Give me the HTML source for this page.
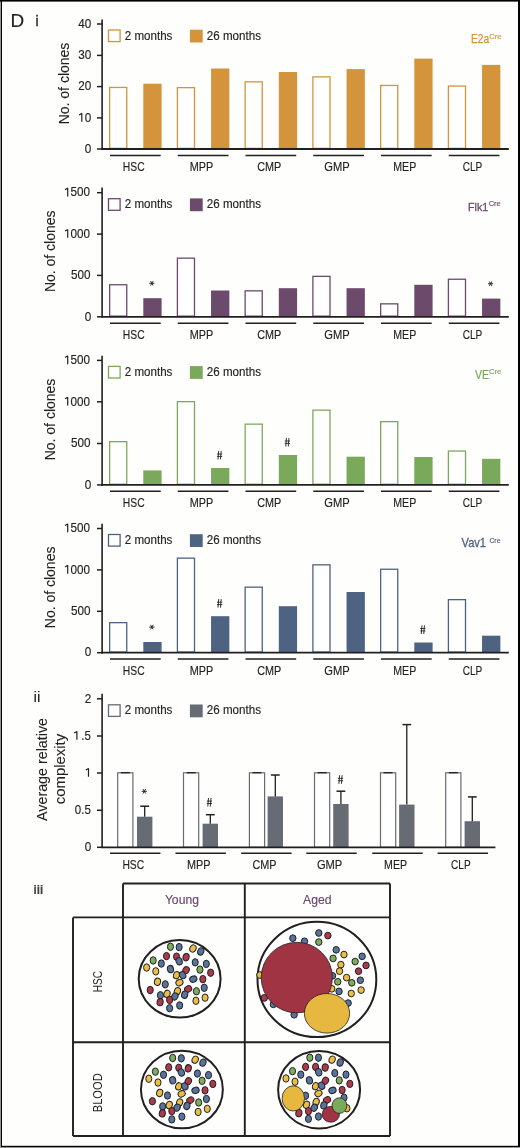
<!DOCTYPE html>
<html><head><meta charset="utf-8"><title>Figure D</title>
<style>
html,body{margin:0;padding:0;background:#fff;}
body{width:520px;height:1148px;overflow:hidden;}
svg{display:block;font-family:"Liberation Sans", sans-serif;will-change:transform;}
</style></head>
<body>
<svg width="520" height="1148" viewBox="0 0 520 1148">
<rect x="0" y="0" width="520" height="1148" fill="#fefefd"/>
<text x="10.5" y="26.8" font-size="18.9" fill="#231f20" text-anchor="start" stroke="#231f20" stroke-width="0.15" >D</text>
<text x="35.4" y="26.3" font-size="14.0" fill="#231f20" text-anchor="start" stroke="#231f20" stroke-width="0.35">i</text>
<text x="33.6" y="702.0" font-size="15.0" fill="#231f20" text-anchor="start" textLength="6.9" lengthAdjust="spacingAndGlyphs" stroke="#231f20" stroke-width="0.1">ii</text>
<text x="33.5" y="893.8" font-size="12.2" fill="#231f20" text-anchor="start" stroke="#231f20" stroke-width="0.15" textLength="9.6" lengthAdjust="spacingAndGlyphs" font-weight="bold" fill-opacity="0.85">iii</text>
<rect x="109.65" y="87.45" width="17.10" height="60.90" fill="#fff" stroke="#d4943c" stroke-width="1.3"/>
<rect x="143.30" y="83.70" width="18.3" height="65.30" fill="#d4943c"/>
<line x1="110.00" y1="155.40" x2="160.70" y2="155.40" stroke="#231f20" stroke-width="1.5"/>
<text x="133.75" y="170.90" font-size="12.6" fill="#231f20" text-anchor="middle" stroke="#231f20" stroke-width="0.15" textLength="21.8" lengthAdjust="spacingAndGlyphs" >HSC</text>
<rect x="177.40" y="87.65" width="17.10" height="60.70" fill="#fff" stroke="#d4943c" stroke-width="1.3"/>
<rect x="211.05" y="68.50" width="18.3" height="80.50" fill="#d4943c"/>
<line x1="177.75" y1="155.40" x2="228.45" y2="155.40" stroke="#231f20" stroke-width="1.5"/>
<text x="201.50" y="170.90" font-size="12.6" fill="#231f20" text-anchor="middle" stroke="#231f20" stroke-width="0.15" textLength="23.5" lengthAdjust="spacingAndGlyphs" >MPP</text>
<rect x="245.15" y="81.85" width="17.10" height="66.50" fill="#fff" stroke="#d4943c" stroke-width="1.3"/>
<rect x="278.80" y="72.00" width="18.3" height="77.00" fill="#d4943c"/>
<line x1="245.50" y1="155.40" x2="296.20" y2="155.40" stroke="#231f20" stroke-width="1.5"/>
<text x="269.25" y="170.90" font-size="12.6" fill="#231f20" text-anchor="middle" stroke="#231f20" stroke-width="0.15" textLength="24.1" lengthAdjust="spacingAndGlyphs" >CMP</text>
<rect x="312.90" y="76.85" width="17.10" height="71.50" fill="#fff" stroke="#d4943c" stroke-width="1.3"/>
<rect x="346.55" y="69.10" width="18.3" height="79.90" fill="#d4943c"/>
<line x1="313.25" y1="155.40" x2="363.95" y2="155.40" stroke="#231f20" stroke-width="1.5"/>
<text x="337.00" y="170.90" font-size="12.6" fill="#231f20" text-anchor="middle" stroke="#231f20" stroke-width="0.15" textLength="25.4" lengthAdjust="spacingAndGlyphs" >GMP</text>
<rect x="380.65" y="85.45" width="17.10" height="62.90" fill="#fff" stroke="#d4943c" stroke-width="1.3"/>
<rect x="414.30" y="58.60" width="18.3" height="90.40" fill="#d4943c"/>
<line x1="381.00" y1="155.40" x2="431.70" y2="155.40" stroke="#231f20" stroke-width="1.5"/>
<text x="404.75" y="170.90" font-size="12.6" fill="#231f20" text-anchor="middle" stroke="#231f20" stroke-width="0.15" textLength="23.0" lengthAdjust="spacingAndGlyphs" >MEP</text>
<rect x="448.40" y="86.05" width="17.10" height="62.30" fill="#fff" stroke="#d4943c" stroke-width="1.3"/>
<rect x="482.05" y="64.90" width="18.3" height="84.10" fill="#d4943c"/>
<line x1="448.75" y1="155.40" x2="499.45" y2="155.40" stroke="#231f20" stroke-width="1.5"/>
<text x="472.50" y="170.90" font-size="12.6" fill="#231f20" text-anchor="middle" stroke="#231f20" stroke-width="0.15" textLength="19.6" lengthAdjust="spacingAndGlyphs" >CLP</text>
<line x1="102.1" y1="19.5" x2="102.1" y2="149.8" stroke="#231f20" stroke-width="1.6"/>
<line x1="101.19999999999999" y1="149.0" x2="508.8" y2="149.0" stroke="#231f20" stroke-width="1.8"/>
<line x1="97.0" y1="149.0" x2="102.1" y2="149.0" stroke="#231f20" stroke-width="1.5"/>
<text x="91.3" y="152.7" font-size="12.2" fill="#231f20" text-anchor="end" stroke="#231f20" stroke-width="0.15" textLength="6.50" lengthAdjust="spacingAndGlyphs" >0</text>
<line x1="97.0" y1="117.9" x2="102.1" y2="117.9" stroke="#231f20" stroke-width="1.5"/>
<text x="91.2" y="121.60000000000001" font-size="12.2" fill="#231f20" text-anchor="end" stroke="#231f20" stroke-width="0.15" textLength="6.50" lengthAdjust="spacingAndGlyphs" >0</text>
<path d="M79.10 114.90L81.90 113.30M81.80 113.20V121.65" stroke="#231f20" stroke-width="1.2" fill="none" stroke-linejoin="round"/>
<line x1="97.0" y1="86.6" x2="102.1" y2="86.6" stroke="#231f20" stroke-width="1.5"/>
<text x="91.2" y="90.3" font-size="12.2" fill="#231f20" text-anchor="end" stroke="#231f20" stroke-width="0.15" textLength="13.00" lengthAdjust="spacingAndGlyphs" >20</text>
<line x1="97.0" y1="55.4" x2="102.1" y2="55.4" stroke="#231f20" stroke-width="1.5"/>
<text x="91.2" y="59.1" font-size="12.2" fill="#231f20" text-anchor="end" stroke="#231f20" stroke-width="0.15" textLength="13.00" lengthAdjust="spacingAndGlyphs" >30</text>
<line x1="97.0" y1="24.0" x2="102.1" y2="24.0" stroke="#231f20" stroke-width="1.5"/>
<text x="91.2" y="27.7" font-size="12.2" fill="#231f20" text-anchor="end" stroke="#231f20" stroke-width="0.15" textLength="13.00" lengthAdjust="spacingAndGlyphs" >40</text>
<rect x="108.5" y="30.00" width="11.6" height="11.6" fill="#fff" stroke="#d4943c" stroke-width="1.3"/>
<rect x="189.9" y="29.70" width="12.8" height="12.8" fill="#d4943c"/>
<text x="124.8" y="39.5" font-size="12.0" fill="#231f20" text-anchor="start" textLength="47.6" lengthAdjust="spacingAndGlyphs" stroke="#231f20" stroke-width="0.15">2 months</text>
<text x="206.8" y="39.5" font-size="12.0" fill="#231f20" text-anchor="start" textLength="54.2" lengthAdjust="spacingAndGlyphs" stroke="#231f20" stroke-width="0.15">26 months</text>
<text x="470.9" y="42.9" font-size="11.9" fill="#d4943c" text-anchor="start" textLength="18.2" lengthAdjust="spacingAndGlyphs" stroke="#d4943c" stroke-width="0.25">E2a</text>
<text x="489.2" y="38.6" font-size="7.6" fill="#d4943c" text-anchor="start" textLength="12.3" lengthAdjust="spacingAndGlyphs" stroke="#d4943c" stroke-width="0.15">Cre</text>
<text transform="translate(69.4 83.5) rotate(-90)" font-size="15.0" fill="#231f20" stroke="#231f20" stroke-width="0.1" text-anchor="middle" textLength="81.6" lengthAdjust="spacingAndGlyphs">No. of clones</text>
<rect x="109.65" y="284.75" width="17.10" height="31.40" fill="#fff" stroke="#6c4a6c" stroke-width="1.3"/>
<rect x="143.30" y="298.20" width="18.3" height="18.60" fill="#6c4a6c"/>
<line x1="110.00" y1="323.20" x2="160.70" y2="323.20" stroke="#231f20" stroke-width="1.5"/>
<text x="133.75" y="338.70" font-size="12.6" fill="#231f20" text-anchor="middle" stroke="#231f20" stroke-width="0.15" textLength="21.8" lengthAdjust="spacingAndGlyphs" >HSC</text>
<rect x="177.40" y="258.15" width="17.10" height="58.00" fill="#fff" stroke="#6c4a6c" stroke-width="1.3"/>
<rect x="211.05" y="290.50" width="18.3" height="26.30" fill="#6c4a6c"/>
<line x1="177.75" y1="323.20" x2="228.45" y2="323.20" stroke="#231f20" stroke-width="1.5"/>
<text x="201.50" y="338.70" font-size="12.6" fill="#231f20" text-anchor="middle" stroke="#231f20" stroke-width="0.15" textLength="23.5" lengthAdjust="spacingAndGlyphs" >MPP</text>
<rect x="245.15" y="290.85" width="17.10" height="25.30" fill="#fff" stroke="#6c4a6c" stroke-width="1.3"/>
<rect x="278.80" y="288.20" width="18.3" height="28.60" fill="#6c4a6c"/>
<line x1="245.50" y1="323.20" x2="296.20" y2="323.20" stroke="#231f20" stroke-width="1.5"/>
<text x="269.25" y="338.70" font-size="12.6" fill="#231f20" text-anchor="middle" stroke="#231f20" stroke-width="0.15" textLength="24.1" lengthAdjust="spacingAndGlyphs" >CMP</text>
<rect x="312.90" y="276.35" width="17.10" height="39.80" fill="#fff" stroke="#6c4a6c" stroke-width="1.3"/>
<rect x="346.55" y="288.20" width="18.3" height="28.60" fill="#6c4a6c"/>
<line x1="313.25" y1="323.20" x2="363.95" y2="323.20" stroke="#231f20" stroke-width="1.5"/>
<text x="337.00" y="338.70" font-size="12.6" fill="#231f20" text-anchor="middle" stroke="#231f20" stroke-width="0.15" textLength="25.4" lengthAdjust="spacingAndGlyphs" >GMP</text>
<rect x="380.65" y="303.85" width="17.10" height="12.30" fill="#fff" stroke="#6c4a6c" stroke-width="1.3"/>
<rect x="414.30" y="284.80" width="18.3" height="32.00" fill="#6c4a6c"/>
<line x1="381.00" y1="323.20" x2="431.70" y2="323.20" stroke="#231f20" stroke-width="1.5"/>
<text x="404.75" y="338.70" font-size="12.6" fill="#231f20" text-anchor="middle" stroke="#231f20" stroke-width="0.15" textLength="23.0" lengthAdjust="spacingAndGlyphs" >MEP</text>
<rect x="448.40" y="279.25" width="17.10" height="36.90" fill="#fff" stroke="#6c4a6c" stroke-width="1.3"/>
<rect x="482.05" y="298.60" width="18.3" height="18.20" fill="#6c4a6c"/>
<line x1="448.75" y1="323.20" x2="499.45" y2="323.20" stroke="#231f20" stroke-width="1.5"/>
<text x="472.50" y="338.70" font-size="12.6" fill="#231f20" text-anchor="middle" stroke="#231f20" stroke-width="0.15" textLength="19.6" lengthAdjust="spacingAndGlyphs" >CLP</text>
<line x1="102.1" y1="187.4" x2="102.1" y2="317.6" stroke="#231f20" stroke-width="1.6"/>
<line x1="101.19999999999999" y1="316.8" x2="508.8" y2="316.8" stroke="#231f20" stroke-width="1.8"/>
<line x1="97.0" y1="316.8" x2="102.1" y2="316.8" stroke="#231f20" stroke-width="1.5"/>
<text x="91.3" y="320.5" font-size="12.2" fill="#231f20" text-anchor="end" stroke="#231f20" stroke-width="0.15" textLength="6.50" lengthAdjust="spacingAndGlyphs" >0</text>
<line x1="97.0" y1="275.4" x2="102.1" y2="275.4" stroke="#231f20" stroke-width="1.5"/>
<text x="90.5" y="279.09999999999997" font-size="12.2" fill="#231f20" text-anchor="end" stroke="#231f20" stroke-width="0.15" textLength="19.50" lengthAdjust="spacingAndGlyphs" >500</text>
<line x1="97.0" y1="234.1" x2="102.1" y2="234.1" stroke="#231f20" stroke-width="1.5"/>
<text x="90.1" y="237.79999999999998" font-size="12.2" fill="#231f20" text-anchor="end" stroke="#231f20" stroke-width="0.15" textLength="19.50" lengthAdjust="spacingAndGlyphs" >000</text>
<path d="M65.00 231.10L67.80 229.50M67.70 229.40V237.85" stroke="#231f20" stroke-width="1.2" fill="none" stroke-linejoin="round"/>
<line x1="97.0" y1="192.7" x2="102.1" y2="192.7" stroke="#231f20" stroke-width="1.5"/>
<text x="90.1" y="196.39999999999998" font-size="12.2" fill="#231f20" text-anchor="end" stroke="#231f20" stroke-width="0.15" textLength="19.50" lengthAdjust="spacingAndGlyphs" >500</text>
<path d="M65.00 189.70L67.80 188.10M67.70 188.00V196.45" stroke="#231f20" stroke-width="1.2" fill="none" stroke-linejoin="round"/>
<path d="M149.25 283.30L154.45 283.30M150.55 281.05L153.15 285.55M153.15 281.05L150.55 285.55" stroke="#231f20" stroke-width="0.95" fill="none"/>
<path d="M488.00 283.70L493.20 283.70M489.30 281.45L491.90 285.95M491.90 281.45L489.30 285.95" stroke="#231f20" stroke-width="0.95" fill="none"/>
<rect x="108.5" y="198.70" width="11.6" height="11.6" fill="#fff" stroke="#6c4a6c" stroke-width="1.3"/>
<rect x="189.9" y="198.40" width="12.8" height="12.8" fill="#6c4a6c"/>
<text x="124.8" y="208.2" font-size="12.0" fill="#231f20" text-anchor="start" textLength="47.6" lengthAdjust="spacingAndGlyphs" stroke="#231f20" stroke-width="0.15">2 months</text>
<text x="206.8" y="208.2" font-size="12.0" fill="#231f20" text-anchor="start" textLength="54.2" lengthAdjust="spacingAndGlyphs" stroke="#231f20" stroke-width="0.15">26 months</text>
<text x="468.0" y="210.6" font-size="11.7" fill="#6c4a6c" text-anchor="start" textLength="20.2" lengthAdjust="spacingAndGlyphs" stroke="#6c4a6c" stroke-width="0.3">Flk1</text>
<text x="488.7" y="206.1" font-size="8.0" fill="#6c4a6c" text-anchor="start" textLength="12.0" lengthAdjust="spacingAndGlyphs" stroke="#6c4a6c" stroke-width="0.15">Cre</text>
<text transform="translate(54.9 251.3) rotate(-90)" font-size="15.0" fill="#231f20" stroke="#231f20" stroke-width="0.1" text-anchor="middle" textLength="81.6" lengthAdjust="spacingAndGlyphs">No. of clones</text>
<rect x="109.65" y="441.65" width="17.10" height="42.60" fill="#fff" stroke="#7aa95c" stroke-width="1.3"/>
<rect x="143.30" y="470.40" width="18.3" height="14.50" fill="#7aa95c"/>
<line x1="110.00" y1="491.30" x2="160.70" y2="491.30" stroke="#231f20" stroke-width="1.5"/>
<text x="133.75" y="506.80" font-size="12.6" fill="#231f20" text-anchor="middle" stroke="#231f20" stroke-width="0.15" textLength="21.8" lengthAdjust="spacingAndGlyphs" >HSC</text>
<rect x="177.40" y="401.65" width="17.10" height="82.60" fill="#fff" stroke="#7aa95c" stroke-width="1.3"/>
<rect x="211.05" y="468.00" width="18.3" height="16.90" fill="#7aa95c"/>
<line x1="177.75" y1="491.30" x2="228.45" y2="491.30" stroke="#231f20" stroke-width="1.5"/>
<text x="201.50" y="506.80" font-size="12.6" fill="#231f20" text-anchor="middle" stroke="#231f20" stroke-width="0.15" textLength="23.5" lengthAdjust="spacingAndGlyphs" >MPP</text>
<rect x="245.15" y="424.15" width="17.10" height="60.10" fill="#fff" stroke="#7aa95c" stroke-width="1.3"/>
<rect x="278.80" y="455.00" width="18.3" height="29.90" fill="#7aa95c"/>
<line x1="245.50" y1="491.30" x2="296.20" y2="491.30" stroke="#231f20" stroke-width="1.5"/>
<text x="269.25" y="506.80" font-size="12.6" fill="#231f20" text-anchor="middle" stroke="#231f20" stroke-width="0.15" textLength="24.1" lengthAdjust="spacingAndGlyphs" >CMP</text>
<rect x="312.90" y="410.15" width="17.10" height="74.10" fill="#fff" stroke="#7aa95c" stroke-width="1.3"/>
<rect x="346.55" y="456.70" width="18.3" height="28.20" fill="#7aa95c"/>
<line x1="313.25" y1="491.30" x2="363.95" y2="491.30" stroke="#231f20" stroke-width="1.5"/>
<text x="337.00" y="506.80" font-size="12.6" fill="#231f20" text-anchor="middle" stroke="#231f20" stroke-width="0.15" textLength="25.4" lengthAdjust="spacingAndGlyphs" >GMP</text>
<rect x="380.65" y="421.65" width="17.10" height="62.60" fill="#fff" stroke="#7aa95c" stroke-width="1.3"/>
<rect x="414.30" y="457.00" width="18.3" height="27.90" fill="#7aa95c"/>
<line x1="381.00" y1="491.30" x2="431.70" y2="491.30" stroke="#231f20" stroke-width="1.5"/>
<text x="404.75" y="506.80" font-size="12.6" fill="#231f20" text-anchor="middle" stroke="#231f20" stroke-width="0.15" textLength="23.0" lengthAdjust="spacingAndGlyphs" >MEP</text>
<rect x="448.40" y="451.05" width="17.10" height="33.20" fill="#fff" stroke="#7aa95c" stroke-width="1.3"/>
<rect x="482.05" y="458.80" width="18.3" height="26.10" fill="#7aa95c"/>
<line x1="448.75" y1="491.30" x2="499.45" y2="491.30" stroke="#231f20" stroke-width="1.5"/>
<text x="472.50" y="506.80" font-size="12.6" fill="#231f20" text-anchor="middle" stroke="#231f20" stroke-width="0.15" textLength="19.6" lengthAdjust="spacingAndGlyphs" >CLP</text>
<line x1="102.1" y1="355.7" x2="102.1" y2="485.7" stroke="#231f20" stroke-width="1.6"/>
<line x1="101.19999999999999" y1="484.9" x2="508.8" y2="484.9" stroke="#231f20" stroke-width="1.8"/>
<line x1="97.0" y1="484.9" x2="102.1" y2="484.9" stroke="#231f20" stroke-width="1.5"/>
<text x="91.3" y="488.59999999999997" font-size="12.2" fill="#231f20" text-anchor="end" stroke="#231f20" stroke-width="0.15" textLength="6.50" lengthAdjust="spacingAndGlyphs" >0</text>
<line x1="97.0" y1="443.5" x2="102.1" y2="443.5" stroke="#231f20" stroke-width="1.5"/>
<text x="90.5" y="447.2" font-size="12.2" fill="#231f20" text-anchor="end" stroke="#231f20" stroke-width="0.15" textLength="19.50" lengthAdjust="spacingAndGlyphs" >500</text>
<line x1="97.0" y1="401.8" x2="102.1" y2="401.8" stroke="#231f20" stroke-width="1.5"/>
<text x="90.1" y="405.5" font-size="12.2" fill="#231f20" text-anchor="end" stroke="#231f20" stroke-width="0.15" textLength="19.50" lengthAdjust="spacingAndGlyphs" >000</text>
<path d="M65.00 398.80L67.80 397.20M67.70 397.10V405.55" stroke="#231f20" stroke-width="1.2" fill="none" stroke-linejoin="round"/>
<line x1="97.0" y1="360.4" x2="102.1" y2="360.4" stroke="#231f20" stroke-width="1.5"/>
<text x="90.1" y="364.09999999999997" font-size="12.2" fill="#231f20" text-anchor="end" stroke="#231f20" stroke-width="0.15" textLength="19.50" lengthAdjust="spacingAndGlyphs" >500</text>
<path d="M65.00 357.40L67.80 355.80M67.70 355.70V364.15" stroke="#231f20" stroke-width="1.2" fill="none" stroke-linejoin="round"/>
<path d="M218.70 450.90L218.00 459.50M221.20 450.90L220.50 459.50M217.00 454.00L222.20 454.00M217.00 456.40L222.20 456.40" stroke="#231f20" stroke-width="0.9" fill="none"/>
<path d="M286.45 437.90L285.75 446.50M288.95 437.90L288.25 446.50M284.75 441.00L289.95 441.00M284.75 443.40L289.95 443.40" stroke="#231f20" stroke-width="0.9" fill="none"/>
<rect x="108.5" y="366.40" width="11.6" height="11.6" fill="#fff" stroke="#7aa95c" stroke-width="1.3"/>
<rect x="189.9" y="366.10" width="12.8" height="12.8" fill="#7aa95c"/>
<text x="124.8" y="375.9" font-size="12.0" fill="#231f20" text-anchor="start" textLength="47.6" lengthAdjust="spacingAndGlyphs" stroke="#231f20" stroke-width="0.15">2 months</text>
<text x="206.8" y="375.9" font-size="12.0" fill="#231f20" text-anchor="start" textLength="54.2" lengthAdjust="spacingAndGlyphs" stroke="#231f20" stroke-width="0.15">26 months</text>
<text x="475.0" y="378.9" font-size="12.2" fill="#7aa95c" text-anchor="start" textLength="14.2" lengthAdjust="spacingAndGlyphs" stroke="#7aa95c" stroke-width="0.2">VE</text>
<text x="488.9" y="373.7" font-size="8.0" fill="#7aa95c" text-anchor="start" textLength="12.4" lengthAdjust="spacingAndGlyphs" stroke="#7aa95c" stroke-width="0.15">Cre</text>
<text transform="translate(54.9 419.5) rotate(-90)" font-size="15.0" fill="#231f20" stroke="#231f20" stroke-width="0.1" text-anchor="middle" textLength="81.6" lengthAdjust="spacingAndGlyphs">No. of clones</text>
<rect x="109.65" y="622.65" width="17.10" height="29.40" fill="#fff" stroke="#4e6381" stroke-width="1.3"/>
<rect x="143.30" y="642.00" width="18.3" height="10.70" fill="#4e6381"/>
<line x1="110.00" y1="659.10" x2="160.70" y2="659.10" stroke="#231f20" stroke-width="1.5"/>
<text x="133.75" y="674.60" font-size="12.6" fill="#231f20" text-anchor="middle" stroke="#231f20" stroke-width="0.15" textLength="21.8" lengthAdjust="spacingAndGlyphs" >HSC</text>
<rect x="177.40" y="558.15" width="17.10" height="93.90" fill="#fff" stroke="#4e6381" stroke-width="1.3"/>
<rect x="211.05" y="616.20" width="18.3" height="36.50" fill="#4e6381"/>
<line x1="177.75" y1="659.10" x2="228.45" y2="659.10" stroke="#231f20" stroke-width="1.5"/>
<text x="201.50" y="674.60" font-size="12.6" fill="#231f20" text-anchor="middle" stroke="#231f20" stroke-width="0.15" textLength="23.5" lengthAdjust="spacingAndGlyphs" >MPP</text>
<rect x="245.15" y="587.15" width="17.10" height="64.90" fill="#fff" stroke="#4e6381" stroke-width="1.3"/>
<rect x="278.80" y="606.20" width="18.3" height="46.50" fill="#4e6381"/>
<line x1="245.50" y1="659.10" x2="296.20" y2="659.10" stroke="#231f20" stroke-width="1.5"/>
<text x="269.25" y="674.60" font-size="12.6" fill="#231f20" text-anchor="middle" stroke="#231f20" stroke-width="0.15" textLength="24.1" lengthAdjust="spacingAndGlyphs" >CMP</text>
<rect x="312.90" y="564.85" width="17.10" height="87.20" fill="#fff" stroke="#4e6381" stroke-width="1.3"/>
<rect x="346.55" y="592.00" width="18.3" height="60.70" fill="#4e6381"/>
<line x1="313.25" y1="659.10" x2="363.95" y2="659.10" stroke="#231f20" stroke-width="1.5"/>
<text x="337.00" y="674.60" font-size="12.6" fill="#231f20" text-anchor="middle" stroke="#231f20" stroke-width="0.15" textLength="25.4" lengthAdjust="spacingAndGlyphs" >GMP</text>
<rect x="380.65" y="569.25" width="17.10" height="82.80" fill="#fff" stroke="#4e6381" stroke-width="1.3"/>
<rect x="414.30" y="642.50" width="18.3" height="10.20" fill="#4e6381"/>
<line x1="381.00" y1="659.10" x2="431.70" y2="659.10" stroke="#231f20" stroke-width="1.5"/>
<text x="404.75" y="674.60" font-size="12.6" fill="#231f20" text-anchor="middle" stroke="#231f20" stroke-width="0.15" textLength="23.0" lengthAdjust="spacingAndGlyphs" >MEP</text>
<rect x="448.40" y="599.65" width="17.10" height="52.40" fill="#fff" stroke="#4e6381" stroke-width="1.3"/>
<rect x="482.05" y="635.70" width="18.3" height="17.00" fill="#4e6381"/>
<line x1="448.75" y1="659.10" x2="499.45" y2="659.10" stroke="#231f20" stroke-width="1.5"/>
<text x="472.50" y="674.60" font-size="12.6" fill="#231f20" text-anchor="middle" stroke="#231f20" stroke-width="0.15" textLength="19.6" lengthAdjust="spacingAndGlyphs" >CLP</text>
<line x1="102.1" y1="523.7" x2="102.1" y2="653.5" stroke="#231f20" stroke-width="1.6"/>
<line x1="101.19999999999999" y1="652.7" x2="508.8" y2="652.7" stroke="#231f20" stroke-width="1.8"/>
<line x1="97.0" y1="652.7" x2="102.1" y2="652.7" stroke="#231f20" stroke-width="1.5"/>
<text x="91.3" y="656.4000000000001" font-size="12.2" fill="#231f20" text-anchor="end" stroke="#231f20" stroke-width="0.15" textLength="6.50" lengthAdjust="spacingAndGlyphs" >0</text>
<line x1="97.0" y1="611.3" x2="102.1" y2="611.3" stroke="#231f20" stroke-width="1.5"/>
<text x="90.5" y="615.0" font-size="12.2" fill="#231f20" text-anchor="end" stroke="#231f20" stroke-width="0.15" textLength="19.50" lengthAdjust="spacingAndGlyphs" >500</text>
<line x1="97.0" y1="569.9" x2="102.1" y2="569.9" stroke="#231f20" stroke-width="1.5"/>
<text x="90.1" y="573.6" font-size="12.2" fill="#231f20" text-anchor="end" stroke="#231f20" stroke-width="0.15" textLength="19.50" lengthAdjust="spacingAndGlyphs" >000</text>
<path d="M65.00 566.90L67.80 565.30M67.70 565.20V573.65" stroke="#231f20" stroke-width="1.2" fill="none" stroke-linejoin="round"/>
<line x1="97.0" y1="528.5" x2="102.1" y2="528.5" stroke="#231f20" stroke-width="1.5"/>
<text x="90.1" y="532.2" font-size="12.2" fill="#231f20" text-anchor="end" stroke="#231f20" stroke-width="0.15" textLength="19.50" lengthAdjust="spacingAndGlyphs" >500</text>
<path d="M65.00 525.50L67.80 523.90M67.70 523.80V532.25" stroke="#231f20" stroke-width="1.2" fill="none" stroke-linejoin="round"/>
<path d="M149.25 627.10L154.45 627.10M150.55 624.85L153.15 629.35M153.15 624.85L150.55 629.35" stroke="#231f20" stroke-width="0.95" fill="none"/>
<path d="M218.70 599.10L218.00 607.70M221.20 599.10L220.50 607.70M217.00 602.20L222.20 602.20M217.00 604.60L222.20 604.60" stroke="#231f20" stroke-width="0.9" fill="none"/>
<path d="M421.95 625.40L421.25 634.00M424.45 625.40L423.75 634.00M420.25 628.50L425.45 628.50M420.25 630.90L425.45 630.90" stroke="#231f20" stroke-width="0.9" fill="none"/>
<rect x="108.5" y="534.50" width="11.6" height="11.6" fill="#fff" stroke="#4e6381" stroke-width="1.3"/>
<rect x="189.9" y="534.20" width="12.8" height="12.8" fill="#4e6381"/>
<text x="124.8" y="544.0" font-size="12.0" fill="#231f20" text-anchor="start" textLength="47.6" lengthAdjust="spacingAndGlyphs" stroke="#231f20" stroke-width="0.15">2 months</text>
<text x="206.8" y="544.0" font-size="12.0" fill="#231f20" text-anchor="start" textLength="54.2" lengthAdjust="spacingAndGlyphs" stroke="#231f20" stroke-width="0.15">26 months</text>
<text x="461.6" y="546.9" font-size="13.0" fill="#4e6381" text-anchor="start" textLength="24.4" lengthAdjust="spacingAndGlyphs" stroke="#4e6381" stroke-width="0.3">Vav1</text>
<text x="489.4" y="543.2" font-size="7.2" fill="#4e6381" text-anchor="start" textLength="11.1" lengthAdjust="spacingAndGlyphs" stroke="#4e6381" stroke-width="0.15">Cre</text>
<text transform="translate(54.9 587.4) rotate(-90)" font-size="15.0" fill="#231f20" stroke="#231f20" stroke-width="0.1" text-anchor="middle" textLength="81.6" lengthAdjust="spacingAndGlyphs">No. of clones</text>
<rect x="117.70" y="772.8" width="15.20" height="74.50" fill="#fff" stroke="#676b74" stroke-width="1.2"/>
<line x1="120.80" y1="772.7" x2="129.80" y2="772.7" stroke="#231f20" stroke-width="1.3"/>
<rect x="137.00" y="816.70" width="15.4" height="30.60" fill="#676b74"/>
<line x1="144.70" y1="806.20" x2="144.70" y2="816.70" stroke="#231f20" stroke-width="1.3"/>
<line x1="140.30" y1="806.20" x2="149.10" y2="806.20" stroke="#231f20" stroke-width="1.5"/>
<line x1="110.00" y1="853.2" x2="160.40" y2="853.2" stroke="#231f20" stroke-width="1.5"/>
<text x="133.30" y="868.6" font-size="12.6" fill="#231f20" text-anchor="middle" stroke="#231f20" stroke-width="0.15" textLength="21.8" lengthAdjust="spacingAndGlyphs" >HSC</text>
<rect x="183.50" y="772.8" width="15.20" height="74.50" fill="#fff" stroke="#676b74" stroke-width="1.2"/>
<line x1="186.60" y1="772.7" x2="195.60" y2="772.7" stroke="#231f20" stroke-width="1.3"/>
<rect x="202.60" y="823.70" width="15.4" height="23.60" fill="#676b74"/>
<line x1="210.30" y1="814.70" x2="210.30" y2="823.70" stroke="#231f20" stroke-width="1.3"/>
<line x1="205.90" y1="814.70" x2="214.70" y2="814.70" stroke="#231f20" stroke-width="1.5"/>
<line x1="175.50" y1="853.2" x2="225.90" y2="853.2" stroke="#231f20" stroke-width="1.5"/>
<text x="198.80" y="868.6" font-size="12.6" fill="#231f20" text-anchor="middle" stroke="#231f20" stroke-width="0.15" textLength="23.5" lengthAdjust="spacingAndGlyphs" >MPP</text>
<rect x="249.40" y="772.8" width="15.20" height="74.50" fill="#fff" stroke="#676b74" stroke-width="1.2"/>
<line x1="252.50" y1="772.7" x2="261.50" y2="772.7" stroke="#231f20" stroke-width="1.3"/>
<rect x="267.60" y="796.40" width="15.4" height="50.90" fill="#676b74"/>
<line x1="275.30" y1="775.00" x2="275.30" y2="796.40" stroke="#231f20" stroke-width="1.3"/>
<line x1="270.90" y1="775.00" x2="279.70" y2="775.00" stroke="#231f20" stroke-width="1.5"/>
<line x1="241.20" y1="853.2" x2="291.60" y2="853.2" stroke="#231f20" stroke-width="1.5"/>
<text x="264.50" y="868.6" font-size="12.6" fill="#231f20" text-anchor="middle" stroke="#231f20" stroke-width="0.15" textLength="24.1" lengthAdjust="spacingAndGlyphs" >CMP</text>
<rect x="314.50" y="772.8" width="15.20" height="74.50" fill="#fff" stroke="#676b74" stroke-width="1.2"/>
<line x1="317.60" y1="772.7" x2="326.60" y2="772.7" stroke="#231f20" stroke-width="1.3"/>
<rect x="333.20" y="804.00" width="15.4" height="43.30" fill="#676b74"/>
<line x1="340.90" y1="791.20" x2="340.90" y2="804.00" stroke="#231f20" stroke-width="1.3"/>
<line x1="336.50" y1="791.20" x2="345.30" y2="791.20" stroke="#231f20" stroke-width="1.5"/>
<line x1="306.30" y1="853.2" x2="356.70" y2="853.2" stroke="#231f20" stroke-width="1.5"/>
<text x="329.60" y="868.6" font-size="12.6" fill="#231f20" text-anchor="middle" stroke="#231f20" stroke-width="0.15" textLength="25.4" lengthAdjust="spacingAndGlyphs" >GMP</text>
<rect x="380.50" y="772.8" width="15.20" height="74.50" fill="#fff" stroke="#676b74" stroke-width="1.2"/>
<line x1="383.60" y1="772.7" x2="392.60" y2="772.7" stroke="#231f20" stroke-width="1.3"/>
<rect x="399.10" y="804.60" width="15.4" height="42.70" fill="#676b74"/>
<line x1="406.80" y1="724.60" x2="406.80" y2="804.60" stroke="#231f20" stroke-width="1.3"/>
<line x1="402.40" y1="724.60" x2="411.20" y2="724.60" stroke="#231f20" stroke-width="1.5"/>
<line x1="372.30" y1="853.2" x2="422.70" y2="853.2" stroke="#231f20" stroke-width="1.5"/>
<text x="395.60" y="868.6" font-size="12.6" fill="#231f20" text-anchor="middle" stroke="#231f20" stroke-width="0.15" textLength="23.0" lengthAdjust="spacingAndGlyphs" >MEP</text>
<rect x="445.70" y="772.8" width="15.20" height="74.50" fill="#fff" stroke="#676b74" stroke-width="1.2"/>
<line x1="448.80" y1="772.7" x2="457.80" y2="772.7" stroke="#231f20" stroke-width="1.3"/>
<rect x="464.60" y="821.20" width="15.4" height="26.10" fill="#676b74"/>
<line x1="472.30" y1="796.90" x2="472.30" y2="821.20" stroke="#231f20" stroke-width="1.3"/>
<line x1="467.90" y1="796.90" x2="476.70" y2="796.90" stroke="#231f20" stroke-width="1.5"/>
<line x1="437.60" y1="853.2" x2="488.00" y2="853.2" stroke="#231f20" stroke-width="1.5"/>
<text x="460.90" y="868.6" font-size="12.6" fill="#231f20" text-anchor="middle" stroke="#231f20" stroke-width="0.15" textLength="19.6" lengthAdjust="spacingAndGlyphs" >CLP</text>
<line x1="102.1" y1="693.7" x2="102.1" y2="848.0999999999999" stroke="#231f20" stroke-width="1.6"/>
<line x1="101.19999999999999" y1="847.3" x2="495.4" y2="847.3" stroke="#231f20" stroke-width="1.7"/>
<line x1="97.0" y1="847.3" x2="102.1" y2="847.3" stroke="#231f20" stroke-width="1.5"/>
<text x="91.3" y="851.0" font-size="12.2" fill="#231f20" text-anchor="end" stroke="#231f20" stroke-width="0.15" textLength="6.50" lengthAdjust="spacingAndGlyphs" >0</text>
<line x1="97.0" y1="810.3" x2="102.1" y2="810.3" stroke="#231f20" stroke-width="1.5"/>
<text x="90.8" y="814.0" font-size="12.2" fill="#231f20" text-anchor="end" stroke="#231f20" stroke-width="0.15" textLength="16.00" lengthAdjust="spacingAndGlyphs" >0.5</text>
<line x1="97.0" y1="773.0" x2="102.1" y2="773.0" stroke="#231f20" stroke-width="1.5"/>
<path d="M85.80 770.00L88.60 768.40M88.50 768.30V776.75" stroke="#231f20" stroke-width="1.2" fill="none" stroke-linejoin="round"/>
<line x1="97.0" y1="736.0" x2="102.1" y2="736.0" stroke="#231f20" stroke-width="1.5"/>
<text x="90.8" y="739.7" font-size="12.2" fill="#231f20" text-anchor="end" stroke="#231f20" stroke-width="0.15" textLength="9.50" lengthAdjust="spacingAndGlyphs" >.5</text>
<path d="M74.20 733.00L77.00 731.40M76.90 731.30V739.75" stroke="#231f20" stroke-width="1.2" fill="none" stroke-linejoin="round"/>
<line x1="97.0" y1="698.8" x2="102.1" y2="698.8" stroke="#231f20" stroke-width="1.5"/>
<text x="91.3" y="702.5" font-size="12.2" fill="#231f20" text-anchor="end" stroke="#231f20" stroke-width="0.15" textLength="6.50" lengthAdjust="spacingAndGlyphs" >2</text>
<path d="M141.70 791.30L146.90 791.30M143.00 789.05L145.60 793.55M145.60 789.05L143.00 793.55" stroke="#231f20" stroke-width="0.95" fill="none"/>
<path d="M208.50 798.00L207.80 806.60M211.00 798.00L210.30 806.60M206.80 801.10L212.00 801.10M206.80 803.50L212.00 803.50" stroke="#231f20" stroke-width="0.9" fill="none"/>
<path d="M339.60 775.20L338.90 783.80M342.10 775.20L341.40 783.80M337.90 778.30L343.10 778.30M337.90 780.70L343.10 780.70" stroke="#231f20" stroke-width="0.9" fill="none"/>
<rect x="108.5" y="704.80" width="11.6" height="11.6" fill="#fff" stroke="#676b74" stroke-width="1.3"/>
<rect x="189.9" y="704.50" width="12.8" height="12.8" fill="#676b74"/>
<text x="124.8" y="714.3" font-size="12.0" fill="#231f20" text-anchor="start" textLength="47.6" lengthAdjust="spacingAndGlyphs" stroke="#231f20" stroke-width="0.15">2 months</text>
<text x="206.8" y="714.3" font-size="12.0" fill="#231f20" text-anchor="start" textLength="54.2" lengthAdjust="spacingAndGlyphs" stroke="#231f20" stroke-width="0.15">26 months</text>
<text transform="translate(47.2 769.5) rotate(-90)" font-size="15.0" fill="#231f20" stroke="#231f20" stroke-width="0.1" text-anchor="middle" textLength="102.9" lengthAdjust="spacingAndGlyphs">Average relative</text>
<text transform="translate(65.2 769.0) rotate(-90)" font-size="15.0" fill="#231f20" stroke="#231f20" stroke-width="0.1" text-anchor="middle" textLength="70.3" lengthAdjust="spacingAndGlyphs">complexity</text>
<ellipse cx="179.65" cy="978.85" rx="40.95" ry="38.75" fill="#fff" stroke="#231f20" stroke-width="2.0"/>
<ellipse cx="170.48" cy="946.77" rx="3.05" ry="3.7" transform="rotate(0 170.48 946.77)" fill="#7aad5c" stroke="#231f20" stroke-width="1.0"/>
<ellipse cx="179.13" cy="947.11" rx="3.05" ry="3.7" transform="rotate(0 179.13 947.11)" fill="#56749d" stroke="#231f20" stroke-width="1.0"/>
<ellipse cx="192.98" cy="948.50" rx="3.05" ry="3.7" transform="rotate(25 192.98 948.50)" fill="#eabd45" stroke="#231f20" stroke-width="1.0"/>
<ellipse cx="200.77" cy="951.44" rx="3.05" ry="3.7" transform="rotate(20 200.77 951.44)" fill="#56749d" stroke="#231f20" stroke-width="1.0"/>
<ellipse cx="166.50" cy="956.11" rx="3.05" ry="3.7" transform="rotate(0 166.50 956.11)" fill="#ab3a4d" stroke="#231f20" stroke-width="1.0"/>
<ellipse cx="176.54" cy="956.63" rx="3.05" ry="3.7" transform="rotate(0 176.54 956.63)" fill="#ab3a4d" stroke="#231f20" stroke-width="1.0"/>
<ellipse cx="186.06" cy="957.15" rx="3.05" ry="3.7" transform="rotate(15 186.06 957.15)" fill="#ab3a4d" stroke="#231f20" stroke-width="1.0"/>
<ellipse cx="179.13" cy="961.31" rx="3.05" ry="3.7" transform="rotate(-20 179.13 961.31)" fill="#56749d" stroke="#231f20" stroke-width="1.0"/>
<ellipse cx="153.17" cy="960.44" rx="3.05" ry="3.7" transform="rotate(0 153.17 960.44)" fill="#7aad5c" stroke="#231f20" stroke-width="1.0"/>
<ellipse cx="161.31" cy="963.56" rx="3.05" ry="3.7" transform="rotate(0 161.31 963.56)" fill="#56749d" stroke="#231f20" stroke-width="1.0"/>
<ellipse cx="195.23" cy="962.35" rx="3.05" ry="3.7" transform="rotate(0 195.23 962.35)" fill="#56749d" stroke="#231f20" stroke-width="1.0"/>
<ellipse cx="206.30" cy="963.90" rx="3.05" ry="3.7" transform="rotate(0 206.30 963.90)" fill="#56749d" stroke="#231f20" stroke-width="1.0"/>
<ellipse cx="146.60" cy="967.54" rx="3.05" ry="3.7" transform="rotate(0 146.60 967.54)" fill="#eabd45" stroke="#231f20" stroke-width="1.0"/>
<ellipse cx="155.77" cy="971.34" rx="3.05" ry="3.7" transform="rotate(0 155.77 971.34)" fill="#eabd45" stroke="#231f20" stroke-width="1.0"/>
<ellipse cx="170.48" cy="969.09" rx="3.05" ry="3.7" transform="rotate(-15 170.48 969.09)" fill="#56749d" stroke="#231f20" stroke-width="1.0"/>
<ellipse cx="186.06" cy="970.13" rx="3.05" ry="3.7" transform="rotate(30 186.06 970.13)" fill="#ab3a4d" stroke="#231f20" stroke-width="1.0"/>
<ellipse cx="199.90" cy="969.61" rx="3.05" ry="3.7" transform="rotate(0 199.90 969.61)" fill="#7aad5c" stroke="#231f20" stroke-width="1.0"/>
<ellipse cx="210.63" cy="972.73" rx="3.05" ry="3.7" transform="rotate(0 210.63 972.73)" fill="#ab3a4d" stroke="#231f20" stroke-width="1.0"/>
<ellipse cx="176.54" cy="975.15" rx="3.05" ry="3.7" transform="rotate(20 176.54 975.15)" fill="#eabd45" stroke="#231f20" stroke-width="1.0"/>
<ellipse cx="182.59" cy="975.15" rx="3.05" ry="3.7" transform="rotate(-30 182.59 975.15)" fill="#56749d" stroke="#231f20" stroke-width="1.0"/>
<ellipse cx="193.32" cy="979.13" rx="3.05" ry="3.7" transform="rotate(70 193.32 979.13)" fill="#56749d" stroke="#231f20" stroke-width="1.0"/>
<ellipse cx="202.84" cy="979.13" rx="3.05" ry="3.7" transform="rotate(0 202.84 979.13)" fill="#ab3a4d" stroke="#231f20" stroke-width="1.0"/>
<ellipse cx="157.50" cy="981.73" rx="3.05" ry="3.7" transform="rotate(15 157.50 981.73)" fill="#eabd45" stroke="#231f20" stroke-width="1.0"/>
<ellipse cx="165.29" cy="984.33" rx="3.05" ry="3.7" transform="rotate(0 165.29 984.33)" fill="#56749d" stroke="#231f20" stroke-width="1.0"/>
<ellipse cx="179.48" cy="982.59" rx="3.05" ry="3.7" transform="rotate(60 179.48 982.59)" fill="#eabd45" stroke="#231f20" stroke-width="1.0"/>
<ellipse cx="150.23" cy="990.04" rx="3.05" ry="3.7" transform="rotate(0 150.23 990.04)" fill="#ab3a4d" stroke="#231f20" stroke-width="1.0"/>
<ellipse cx="188.13" cy="989.00" rx="3.05" ry="3.7" transform="rotate(60 188.13 989.00)" fill="#ab3a4d" stroke="#231f20" stroke-width="1.0"/>
<ellipse cx="196.44" cy="991.25" rx="3.05" ry="3.7" transform="rotate(0 196.44 991.25)" fill="#7aad5c" stroke="#231f20" stroke-width="1.0"/>
<ellipse cx="204.23" cy="987.79" rx="3.05" ry="3.7" transform="rotate(0 204.23 987.79)" fill="#56749d" stroke="#231f20" stroke-width="1.0"/>
<ellipse cx="177.40" cy="991.25" rx="3.05" ry="3.7" transform="rotate(20 177.40 991.25)" fill="#eabd45" stroke="#231f20" stroke-width="1.0"/>
<ellipse cx="160.44" cy="995.23" rx="3.05" ry="3.7" transform="rotate(0 160.44 995.23)" fill="#56749d" stroke="#231f20" stroke-width="1.0"/>
<ellipse cx="167.02" cy="993.84" rx="3.05" ry="3.7" transform="rotate(20 167.02 993.84)" fill="#eabd45" stroke="#231f20" stroke-width="1.0"/>
<ellipse cx="174.81" cy="996.44" rx="3.05" ry="3.7" transform="rotate(30 174.81 996.44)" fill="#56749d" stroke="#231f20" stroke-width="1.0"/>
<ellipse cx="184.67" cy="994.71" rx="3.05" ry="3.7" transform="rotate(15 184.67 994.71)" fill="#56749d" stroke="#231f20" stroke-width="1.0"/>
<ellipse cx="169.61" cy="999.90" rx="3.05" ry="3.7" transform="rotate(0 169.61 999.90)" fill="#ab3a4d" stroke="#231f20" stroke-width="1.0"/>
<ellipse cx="160.10" cy="1002.15" rx="3.05" ry="3.7" transform="rotate(10 160.10 1002.15)" fill="#ab3a4d" stroke="#231f20" stroke-width="1.0"/>
<ellipse cx="195.92" cy="1000.77" rx="3.05" ry="3.7" transform="rotate(0 195.92 1000.77)" fill="#eabd45" stroke="#231f20" stroke-width="1.0"/>
<ellipse cx="205.09" cy="997.65" rx="3.05" ry="3.7" transform="rotate(0 205.09 997.65)" fill="#eabd45" stroke="#231f20" stroke-width="1.0"/>
<ellipse cx="169.61" cy="1008.21" rx="3.05" ry="3.7" transform="rotate(0 169.61 1008.21)" fill="#56749d" stroke="#231f20" stroke-width="1.0"/>
<ellipse cx="179.65" cy="1005.44" rx="3.05" ry="3.7" transform="rotate(0 179.65 1005.44)" fill="#56749d" stroke="#231f20" stroke-width="1.0"/>
<ellipse cx="181.9" cy="1089.5" rx="40.95" ry="38.8" fill="#fff" stroke="#231f20" stroke-width="2.0"/>
<ellipse cx="172.68" cy="1057.97" rx="3.05" ry="3.7" transform="rotate(0 172.68 1057.97)" fill="#7aad5c" stroke="#231f20" stroke-width="1.0"/>
<ellipse cx="181.33" cy="1058.31" rx="3.05" ry="3.7" transform="rotate(0 181.33 1058.31)" fill="#56749d" stroke="#231f20" stroke-width="1.0"/>
<ellipse cx="195.18" cy="1059.70" rx="3.05" ry="3.7" transform="rotate(25 195.18 1059.70)" fill="#eabd45" stroke="#231f20" stroke-width="1.0"/>
<ellipse cx="202.97" cy="1062.64" rx="3.05" ry="3.7" transform="rotate(20 202.97 1062.64)" fill="#56749d" stroke="#231f20" stroke-width="1.0"/>
<ellipse cx="168.70" cy="1067.31" rx="3.05" ry="3.7" transform="rotate(0 168.70 1067.31)" fill="#ab3a4d" stroke="#231f20" stroke-width="1.0"/>
<ellipse cx="178.74" cy="1067.83" rx="3.05" ry="3.7" transform="rotate(0 178.74 1067.83)" fill="#ab3a4d" stroke="#231f20" stroke-width="1.0"/>
<ellipse cx="188.26" cy="1068.35" rx="3.05" ry="3.7" transform="rotate(15 188.26 1068.35)" fill="#ab3a4d" stroke="#231f20" stroke-width="1.0"/>
<ellipse cx="181.33" cy="1072.51" rx="3.05" ry="3.7" transform="rotate(-20 181.33 1072.51)" fill="#56749d" stroke="#231f20" stroke-width="1.0"/>
<ellipse cx="155.37" cy="1071.64" rx="3.05" ry="3.7" transform="rotate(0 155.37 1071.64)" fill="#7aad5c" stroke="#231f20" stroke-width="1.0"/>
<ellipse cx="163.51" cy="1074.76" rx="3.05" ry="3.7" transform="rotate(0 163.51 1074.76)" fill="#56749d" stroke="#231f20" stroke-width="1.0"/>
<ellipse cx="197.43" cy="1073.55" rx="3.05" ry="3.7" transform="rotate(0 197.43 1073.55)" fill="#56749d" stroke="#231f20" stroke-width="1.0"/>
<ellipse cx="208.50" cy="1075.10" rx="3.05" ry="3.7" transform="rotate(0 208.50 1075.10)" fill="#56749d" stroke="#231f20" stroke-width="1.0"/>
<ellipse cx="148.80" cy="1078.74" rx="3.05" ry="3.7" transform="rotate(0 148.80 1078.74)" fill="#eabd45" stroke="#231f20" stroke-width="1.0"/>
<ellipse cx="157.97" cy="1082.54" rx="3.05" ry="3.7" transform="rotate(0 157.97 1082.54)" fill="#eabd45" stroke="#231f20" stroke-width="1.0"/>
<ellipse cx="172.68" cy="1080.29" rx="3.05" ry="3.7" transform="rotate(-15 172.68 1080.29)" fill="#56749d" stroke="#231f20" stroke-width="1.0"/>
<ellipse cx="188.26" cy="1081.33" rx="3.05" ry="3.7" transform="rotate(30 188.26 1081.33)" fill="#ab3a4d" stroke="#231f20" stroke-width="1.0"/>
<ellipse cx="202.10" cy="1080.81" rx="3.05" ry="3.7" transform="rotate(0 202.10 1080.81)" fill="#7aad5c" stroke="#231f20" stroke-width="1.0"/>
<ellipse cx="212.83" cy="1083.93" rx="3.05" ry="3.7" transform="rotate(0 212.83 1083.93)" fill="#ab3a4d" stroke="#231f20" stroke-width="1.0"/>
<ellipse cx="178.74" cy="1086.35" rx="3.05" ry="3.7" transform="rotate(20 178.74 1086.35)" fill="#eabd45" stroke="#231f20" stroke-width="1.0"/>
<ellipse cx="184.79" cy="1086.35" rx="3.05" ry="3.7" transform="rotate(-30 184.79 1086.35)" fill="#56749d" stroke="#231f20" stroke-width="1.0"/>
<ellipse cx="195.52" cy="1090.33" rx="3.05" ry="3.7" transform="rotate(70 195.52 1090.33)" fill="#56749d" stroke="#231f20" stroke-width="1.0"/>
<ellipse cx="205.04" cy="1090.33" rx="3.05" ry="3.7" transform="rotate(0 205.04 1090.33)" fill="#ab3a4d" stroke="#231f20" stroke-width="1.0"/>
<ellipse cx="159.70" cy="1092.93" rx="3.05" ry="3.7" transform="rotate(15 159.70 1092.93)" fill="#eabd45" stroke="#231f20" stroke-width="1.0"/>
<ellipse cx="167.49" cy="1095.53" rx="3.05" ry="3.7" transform="rotate(0 167.49 1095.53)" fill="#56749d" stroke="#231f20" stroke-width="1.0"/>
<ellipse cx="181.68" cy="1093.79" rx="3.05" ry="3.7" transform="rotate(60 181.68 1093.79)" fill="#eabd45" stroke="#231f20" stroke-width="1.0"/>
<ellipse cx="152.43" cy="1101.24" rx="3.05" ry="3.7" transform="rotate(0 152.43 1101.24)" fill="#ab3a4d" stroke="#231f20" stroke-width="1.0"/>
<ellipse cx="190.33" cy="1100.20" rx="3.05" ry="3.7" transform="rotate(60 190.33 1100.20)" fill="#ab3a4d" stroke="#231f20" stroke-width="1.0"/>
<ellipse cx="198.64" cy="1102.45" rx="3.05" ry="3.7" transform="rotate(0 198.64 1102.45)" fill="#7aad5c" stroke="#231f20" stroke-width="1.0"/>
<ellipse cx="206.43" cy="1098.99" rx="3.05" ry="3.7" transform="rotate(0 206.43 1098.99)" fill="#56749d" stroke="#231f20" stroke-width="1.0"/>
<ellipse cx="179.60" cy="1102.45" rx="3.05" ry="3.7" transform="rotate(20 179.60 1102.45)" fill="#eabd45" stroke="#231f20" stroke-width="1.0"/>
<ellipse cx="162.64" cy="1106.43" rx="3.05" ry="3.7" transform="rotate(0 162.64 1106.43)" fill="#56749d" stroke="#231f20" stroke-width="1.0"/>
<ellipse cx="169.22" cy="1105.04" rx="3.05" ry="3.7" transform="rotate(20 169.22 1105.04)" fill="#eabd45" stroke="#231f20" stroke-width="1.0"/>
<ellipse cx="177.01" cy="1107.64" rx="3.05" ry="3.7" transform="rotate(30 177.01 1107.64)" fill="#56749d" stroke="#231f20" stroke-width="1.0"/>
<ellipse cx="186.87" cy="1105.91" rx="3.05" ry="3.7" transform="rotate(15 186.87 1105.91)" fill="#56749d" stroke="#231f20" stroke-width="1.0"/>
<ellipse cx="171.81" cy="1111.10" rx="3.05" ry="3.7" transform="rotate(0 171.81 1111.10)" fill="#ab3a4d" stroke="#231f20" stroke-width="1.0"/>
<ellipse cx="162.30" cy="1113.35" rx="3.05" ry="3.7" transform="rotate(10 162.30 1113.35)" fill="#ab3a4d" stroke="#231f20" stroke-width="1.0"/>
<ellipse cx="198.12" cy="1111.97" rx="3.05" ry="3.7" transform="rotate(0 198.12 1111.97)" fill="#eabd45" stroke="#231f20" stroke-width="1.0"/>
<ellipse cx="207.29" cy="1108.85" rx="3.05" ry="3.7" transform="rotate(0 207.29 1108.85)" fill="#eabd45" stroke="#231f20" stroke-width="1.0"/>
<ellipse cx="171.81" cy="1119.41" rx="3.05" ry="3.7" transform="rotate(0 171.81 1119.41)" fill="#56749d" stroke="#231f20" stroke-width="1.0"/>
<ellipse cx="181.85" cy="1116.64" rx="3.05" ry="3.7" transform="rotate(0 181.85 1116.64)" fill="#56749d" stroke="#231f20" stroke-width="1.0"/>
<ellipse cx="316.9" cy="979.45" rx="59.4" ry="57.65" fill="#fff" stroke="#231f20" stroke-width="2.0"/>
<ellipse cx="292.83" cy="938.17" rx="3.2" ry="3.35" transform="rotate(0 292.83 938.17)" fill="#56749d" stroke="#231f20" stroke-width="1.0"/>
<ellipse cx="304.52" cy="941.29" rx="3.2" ry="3.35" transform="rotate(0 304.52 941.29)" fill="#56749d" stroke="#231f20" stroke-width="1.0"/>
<ellipse cx="318.80" cy="932.98" rx="3.2" ry="3.35" transform="rotate(0 318.80 932.98)" fill="#56749d" stroke="#231f20" stroke-width="1.0"/>
<ellipse cx="327.88" cy="935.58" rx="3.2" ry="3.35" transform="rotate(0 327.88 935.58)" fill="#ab3a4d" stroke="#231f20" stroke-width="1.0"/>
<ellipse cx="318.80" cy="942.07" rx="3.2" ry="3.35" transform="rotate(0 318.80 942.07)" fill="#7aad5c" stroke="#231f20" stroke-width="1.0"/>
<ellipse cx="336.19" cy="949.85" rx="3.2" ry="3.35" transform="rotate(0 336.19 949.85)" fill="#56749d" stroke="#231f20" stroke-width="1.0"/>
<ellipse cx="343.98" cy="954.53" rx="3.2" ry="3.35" transform="rotate(0 343.98 954.53)" fill="#eabd45" stroke="#231f20" stroke-width="1.0"/>
<ellipse cx="333.07" cy="958.42" rx="3.2" ry="3.35" transform="rotate(0 333.07 958.42)" fill="#7aad5c" stroke="#231f20" stroke-width="1.0"/>
<ellipse cx="362.15" cy="956.34" rx="3.2" ry="3.35" transform="rotate(0 362.15 956.34)" fill="#56749d" stroke="#231f20" stroke-width="1.0"/>
<ellipse cx="355.14" cy="961.54" rx="3.2" ry="3.35" transform="rotate(0 355.14 961.54)" fill="#7aad5c" stroke="#231f20" stroke-width="1.0"/>
<ellipse cx="340.86" cy="964.65" rx="3.2" ry="3.35" transform="rotate(0 340.86 964.65)" fill="#eabd45" stroke="#231f20" stroke-width="1.0"/>
<ellipse cx="366.04" cy="965.43" rx="3.2" ry="3.35" transform="rotate(0 366.04 965.43)" fill="#ab3a4d" stroke="#231f20" stroke-width="1.0"/>
<ellipse cx="339.56" cy="971.14" rx="3.2" ry="3.35" transform="rotate(0 339.56 971.14)" fill="#eabd45" stroke="#231f20" stroke-width="1.0"/>
<ellipse cx="358.52" cy="971.14" rx="3.2" ry="3.35" transform="rotate(0 358.52 971.14)" fill="#ab3a4d" stroke="#231f20" stroke-width="1.0"/>
<ellipse cx="332.55" cy="975.82" rx="3.2" ry="3.35" transform="rotate(0 332.55 975.82)" fill="#56749d" stroke="#231f20" stroke-width="1.0"/>
<ellipse cx="346.57" cy="977.63" rx="3.2" ry="3.35" transform="rotate(0 346.57 977.63)" fill="#eabd45" stroke="#231f20" stroke-width="1.0"/>
<ellipse cx="337.75" cy="981.79" rx="3.2" ry="3.35" transform="rotate(0 337.75 981.79)" fill="#7aad5c" stroke="#231f20" stroke-width="1.0"/>
<ellipse cx="351.77" cy="982.82" rx="3.2" ry="3.35" transform="rotate(0 351.77 982.82)" fill="#7aad5c" stroke="#231f20" stroke-width="1.0"/>
<ellipse cx="360.33" cy="980.23" rx="3.2" ry="3.35" transform="rotate(0 360.33 980.23)" fill="#56749d" stroke="#231f20" stroke-width="1.0"/>
<ellipse cx="331.78" cy="988.80" rx="3.2" ry="3.35" transform="rotate(0 331.78 988.80)" fill="#eabd45" stroke="#231f20" stroke-width="1.0"/>
<ellipse cx="339.04" cy="991.39" rx="3.2" ry="3.35" transform="rotate(0 339.04 991.39)" fill="#56749d" stroke="#231f20" stroke-width="1.0"/>
<ellipse cx="351.25" cy="993.47" rx="3.2" ry="3.35" transform="rotate(0 351.25 993.47)" fill="#eabd45" stroke="#231f20" stroke-width="1.0"/>
<ellipse cx="361.11" cy="990.09" rx="3.2" ry="3.35" transform="rotate(0 361.11 990.09)" fill="#eabd45" stroke="#231f20" stroke-width="1.0"/>
<ellipse cx="348.13" cy="1003.07" rx="3.2" ry="3.35" transform="rotate(0 348.13 1003.07)" fill="#56749d" stroke="#231f20" stroke-width="1.0"/>
<ellipse cx="259.87" cy="975.04" rx="3.2" ry="3.35" transform="rotate(0 259.87 975.04)" fill="#eabd45" stroke="#231f20" stroke-width="1.0"/>
<ellipse cx="264.28" cy="997.88" rx="3.2" ry="3.35" transform="rotate(0 264.28 997.88)" fill="#ab3a4d" stroke="#231f20" stroke-width="1.0"/>
<ellipse cx="273.36" cy="1004.37" rx="3.2" ry="3.35" transform="rotate(0 273.36 1004.37)" fill="#56749d" stroke="#231f20" stroke-width="1.0"/>
<ellipse cx="294.13" cy="1014.76" rx="3.2" ry="3.35" transform="rotate(0 294.13 1014.76)" fill="#56749d" stroke="#231f20" stroke-width="1.0"/>
<ellipse cx="296.8" cy="977.6" rx="35.6" ry="35.3" fill="#a03443" stroke="#231f20" stroke-width="0.8"/>
<ellipse cx="327.0" cy="1013.3" rx="22.6" ry="19.8" fill="#e7b83f" stroke="#231f20" stroke-width="0.8"/>
<ellipse cx="319.1" cy="1089.7" rx="41.0" ry="38.8" fill="#fff" stroke="#231f20" stroke-width="2.0"/>
<ellipse cx="309.81" cy="1057.69" rx="3.05" ry="3.7" transform="rotate(0 309.81 1057.69)" fill="#7aad5c" stroke="#231f20" stroke-width="1.0"/>
<ellipse cx="318.46" cy="1057.69" rx="3.05" ry="3.7" transform="rotate(0 318.46 1057.69)" fill="#56749d" stroke="#231f20" stroke-width="1.0"/>
<ellipse cx="332.12" cy="1059.62" rx="3.05" ry="3.7" transform="rotate(20 332.12 1059.62)" fill="#eabd45" stroke="#231f20" stroke-width="1.0"/>
<ellipse cx="340.19" cy="1062.50" rx="3.05" ry="3.7" transform="rotate(20 340.19 1062.50)" fill="#56749d" stroke="#231f20" stroke-width="1.0"/>
<ellipse cx="305.58" cy="1066.92" rx="3.05" ry="3.7" transform="rotate(0 305.58 1066.92)" fill="#ab3a4d" stroke="#231f20" stroke-width="1.0"/>
<ellipse cx="315.58" cy="1066.92" rx="3.05" ry="3.7" transform="rotate(0 315.58 1066.92)" fill="#ab3a4d" stroke="#231f20" stroke-width="1.0"/>
<ellipse cx="325.19" cy="1067.50" rx="3.05" ry="3.7" transform="rotate(15 325.19 1067.50)" fill="#ab3a4d" stroke="#231f20" stroke-width="1.0"/>
<ellipse cx="318.65" cy="1072.31" rx="3.05" ry="3.7" transform="rotate(-20 318.65 1072.31)" fill="#56749d" stroke="#231f20" stroke-width="1.0"/>
<ellipse cx="292.50" cy="1071.15" rx="3.05" ry="3.7" transform="rotate(0 292.50 1071.15)" fill="#7aad5c" stroke="#231f20" stroke-width="1.0"/>
<ellipse cx="300.77" cy="1074.62" rx="3.05" ry="3.7" transform="rotate(0 300.77 1074.62)" fill="#56749d" stroke="#231f20" stroke-width="1.0"/>
<ellipse cx="334.81" cy="1073.08" rx="3.05" ry="3.7" transform="rotate(0 334.81 1073.08)" fill="#56749d" stroke="#231f20" stroke-width="1.0"/>
<ellipse cx="345.96" cy="1074.62" rx="3.05" ry="3.7" transform="rotate(0 345.96 1074.62)" fill="#56749d" stroke="#231f20" stroke-width="1.0"/>
<ellipse cx="285.96" cy="1078.46" rx="3.05" ry="3.7" transform="rotate(0 285.96 1078.46)" fill="#eabd45" stroke="#231f20" stroke-width="1.0"/>
<ellipse cx="295.00" cy="1081.73" rx="3.05" ry="3.7" transform="rotate(0 295.00 1081.73)" fill="#eabd45" stroke="#231f20" stroke-width="1.0"/>
<ellipse cx="309.42" cy="1080.38" rx="3.05" ry="3.7" transform="rotate(-15 309.42 1080.38)" fill="#56749d" stroke="#231f20" stroke-width="1.0"/>
<ellipse cx="325.38" cy="1080.77" rx="3.05" ry="3.7" transform="rotate(30 325.38 1080.77)" fill="#ab3a4d" stroke="#231f20" stroke-width="1.0"/>
<ellipse cx="339.23" cy="1080.38" rx="3.05" ry="3.7" transform="rotate(0 339.23 1080.38)" fill="#7aad5c" stroke="#231f20" stroke-width="1.0"/>
<ellipse cx="349.81" cy="1083.85" rx="3.05" ry="3.7" transform="rotate(0 349.81 1083.85)" fill="#ab3a4d" stroke="#231f20" stroke-width="1.0"/>
<ellipse cx="315.58" cy="1086.15" rx="3.05" ry="3.7" transform="rotate(20 315.58 1086.15)" fill="#eabd45" stroke="#231f20" stroke-width="1.0"/>
<ellipse cx="321.54" cy="1085.77" rx="3.05" ry="3.7" transform="rotate(-30 321.54 1085.77)" fill="#56749d" stroke="#231f20" stroke-width="1.0"/>
<ellipse cx="332.50" cy="1090.38" rx="3.05" ry="3.7" transform="rotate(70 332.50 1090.38)" fill="#56749d" stroke="#231f20" stroke-width="1.0"/>
<ellipse cx="342.12" cy="1090.00" rx="3.05" ry="3.7" transform="rotate(0 342.12 1090.00)" fill="#ab3a4d" stroke="#231f20" stroke-width="1.0"/>
<ellipse cx="318.46" cy="1093.46" rx="3.05" ry="3.7" transform="rotate(60 318.46 1093.46)" fill="#eabd45" stroke="#231f20" stroke-width="1.0"/>
<ellipse cx="305.58" cy="1095.77" rx="3.05" ry="3.7" transform="rotate(0 305.58 1095.77)" fill="#56749d" stroke="#231f20" stroke-width="1.0"/>
<ellipse cx="327.12" cy="1100.00" rx="3.05" ry="3.7" transform="rotate(60 327.12 1100.00)" fill="#ab3a4d" stroke="#231f20" stroke-width="1.0"/>
<ellipse cx="316.15" cy="1101.92" rx="3.05" ry="3.7" transform="rotate(20 316.15 1101.92)" fill="#eabd45" stroke="#231f20" stroke-width="1.0"/>
<ellipse cx="306.54" cy="1104.81" rx="3.05" ry="3.7" transform="rotate(20 306.54 1104.81)" fill="#eabd45" stroke="#231f20" stroke-width="1.0"/>
<ellipse cx="314.23" cy="1107.69" rx="3.05" ry="3.7" transform="rotate(30 314.23 1107.69)" fill="#56749d" stroke="#231f20" stroke-width="1.0"/>
<ellipse cx="323.85" cy="1105.38" rx="3.05" ry="3.7" transform="rotate(15 323.85 1105.38)" fill="#56749d" stroke="#231f20" stroke-width="1.0"/>
<ellipse cx="308.46" cy="1111.15" rx="3.05" ry="3.7" transform="rotate(0 308.46 1111.15)" fill="#ab3a4d" stroke="#231f20" stroke-width="1.0"/>
<ellipse cx="298.85" cy="1113.08" rx="3.05" ry="3.7" transform="rotate(10 298.85 1113.08)" fill="#ab3a4d" stroke="#231f20" stroke-width="1.0"/>
<ellipse cx="344.04" cy="1097.69" rx="3.05" ry="3.7" transform="rotate(0 344.04 1097.69)" fill="#56749d" stroke="#231f20" stroke-width="1.0"/>
<ellipse cx="346.92" cy="1108.27" rx="3.05" ry="3.7" transform="rotate(0 346.92 1108.27)" fill="#eabd45" stroke="#231f20" stroke-width="1.0"/>
<ellipse cx="308.46" cy="1118.85" rx="3.05" ry="3.7" transform="rotate(0 308.46 1118.85)" fill="#56749d" stroke="#231f20" stroke-width="1.0"/>
<ellipse cx="318.46" cy="1116.54" rx="3.05" ry="3.7" transform="rotate(0 318.46 1116.54)" fill="#56749d" stroke="#231f20" stroke-width="1.0"/>
<ellipse cx="293.3" cy="1098.4" rx="11.2" ry="12.6" fill="#e7b83f" stroke="#231f20" stroke-width="0.8"/>
<ellipse cx="330.8" cy="1114.3" rx="8.7" ry="7.9" fill="#a03443" stroke="#231f20" stroke-width="0.8"/>
<ellipse cx="339.4" cy="1105.6" rx="7.4" ry="7.8" fill="#7aab5c" stroke="#231f20" stroke-width="0.8"/>
<path d="M123 883.5H390 M73 917.4H390 M73 1042.3H390 M73 1136H390" stroke="#231f20" stroke-width="1.9" fill="none"/>
<path d="M73 917.4V1136 M123 883.5V1136 M244.8 883.5V1136 M390 883.5V1136" stroke="#231f20" stroke-width="1.9" fill="none"/>
<text x="164.9" y="903.8" font-size="12.2" fill="#6c466d" text-anchor="start" stroke="#6c466d" stroke-width="0.15" textLength="34.0" lengthAdjust="spacingAndGlyphs" >Young</text>
<text x="303.0" y="903.8" font-size="12.2" fill="#6c466d" text-anchor="start" stroke="#6c466d" stroke-width="0.15" textLength="28.5" lengthAdjust="spacingAndGlyphs" >Aged</text>
<text transform="translate(101.9 981.7) rotate(-90)" font-size="12.2" fill="#231f20" text-anchor="middle" textLength="21.3" lengthAdjust="spacingAndGlyphs">HSC</text>
<text transform="translate(101.9 1092.8) rotate(-90)" font-size="12.2" fill="#231f20" text-anchor="middle" textLength="38.9" lengthAdjust="spacingAndGlyphs">BLOOD</text>
<rect x="0" y="0" width="1" height="1148" fill="#969696"/>
<rect x="0" y="1147" width="520" height="1" fill="#969696"/>
<rect x="1" y="0" width="1" height="1147" fill="#000"/>
<rect x="0" y="0" width="520" height="1.6" fill="#000"/>
<rect x="518" y="0" width="2" height="1147" fill="#000"/>
<rect x="1" y="1145.8" width="519" height="1.2" fill="#000"/>
</svg>
</body></html>
